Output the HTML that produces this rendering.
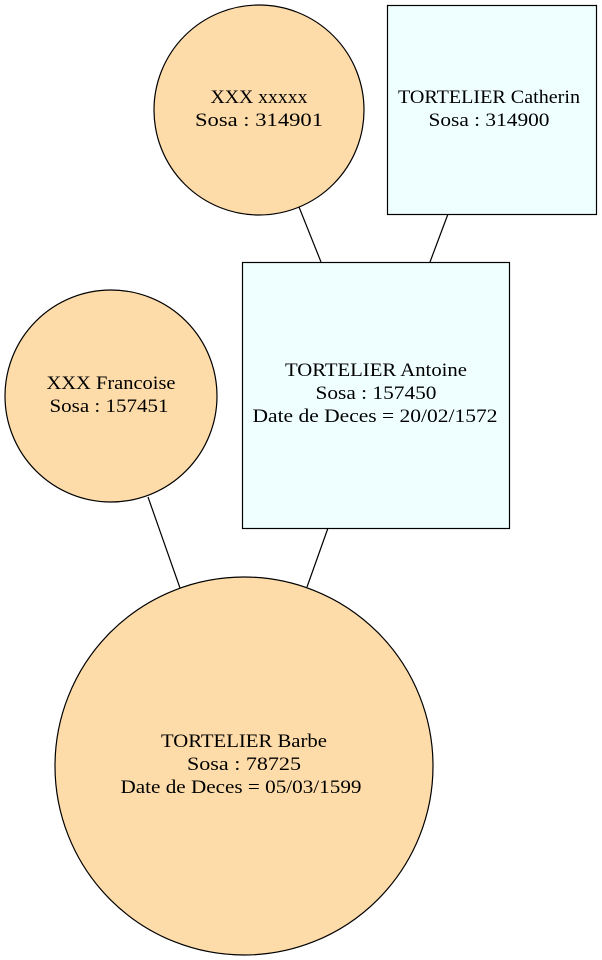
<!DOCTYPE html>
<html><head><meta charset="utf-8"><style>
html,body{margin:0;padding:0;background:#fff;}
svg{display:block;}
text{font-family:"Liberation Serif","Times New Roman",serif;font-size:19px;fill:#000;text-anchor:middle;}
</style></head><body>
<svg width="602" height="960" viewBox="0 0 602 960" xmlns="http://www.w3.org/2000/svg">
<g stroke="#000" stroke-width="1.2" fill="none">
<line x1="299" y1="207" x2="321" y2="262"/>
<line x1="448" y1="214" x2="430" y2="262"/>
<line x1="148" y1="497" x2="180" y2="588"/>
<line x1="328" y1="528" x2="307" y2="587"/>
</g>
<circle cx="259" cy="110" r="105" fill="#fddcaa" stroke="#000" stroke-width="1.2"/>
<rect x="387.5" y="5.5" width="209" height="209" fill="#efffff" stroke="#000" stroke-width="1.2"/>
<rect x="242.5" y="262.5" width="267" height="266" fill="#efffff" stroke="#000" stroke-width="1.2"/>
<circle cx="111" cy="396" r="106" fill="#fddcaa" stroke="#000" stroke-width="1.2"/>
<circle cx="244" cy="766" r="189" fill="#fddcaa" stroke="#000" stroke-width="1.2"/>
<text x="259" y="103" textLength="97" lengthAdjust="spacingAndGlyphs">XXX xxxxx</text>
<text x="259" y="126" textLength="128" lengthAdjust="spacingAndGlyphs">Sosa : 314901</text>
<text x="489" y="103" textLength="182" lengthAdjust="spacingAndGlyphs">TORTELIER Catherin</text>
<text x="489" y="126" textLength="121" lengthAdjust="spacingAndGlyphs">Sosa : 314900</text>
<text x="376" y="376" textLength="182" lengthAdjust="spacingAndGlyphs">TORTELIER Antoine</text>
<text x="376" y="399" textLength="121" lengthAdjust="spacingAndGlyphs">Sosa : 157450</text>
<text x="375" y="422" textLength="245" lengthAdjust="spacingAndGlyphs">Date de Deces = 20/02/1572</text>
<text x="111" y="389" textLength="129" lengthAdjust="spacingAndGlyphs">XXX Francoise</text>
<text x="109" y="412" textLength="119" lengthAdjust="spacingAndGlyphs">Sosa : 157451</text>
<text x="244" y="747" textLength="166" lengthAdjust="spacingAndGlyphs">TORTELIER Barbe</text>
<text x="244" y="770" textLength="114" lengthAdjust="spacingAndGlyphs">Sosa : 78725</text>
<text x="241" y="793" textLength="241" lengthAdjust="spacingAndGlyphs">Date de Deces = 05/03/1599</text>
</svg>
</body></html>
